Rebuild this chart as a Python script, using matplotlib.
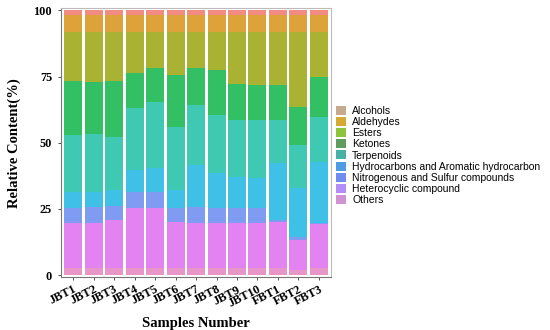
import numpy as np
import matplotlib
matplotlib.use("Agg")
import matplotlib.pyplot as plt
from matplotlib.patches import Patch

samples = ["JBT1", "JBT2", "JBT3", "JBT4", "JBT5", "JBT6", "JBT7",
           "JBT8", "JBT9", "JBT10", "FBT1", "FBT2", "FBT3"]
groups = ["Alcohols", "Aldehydes", "Esters", "Ketones", "Terpenoids",
          "Hydrocarbons and Aromatic hydrocarbon", "Nitrogenous and Sulfur compounds",
          "Heterocyclic compound", "Others"]

# percent per sample
alcohols     = [1.9, 1.9, 1.9, 1.9, 1.9, 1.9, 1.9, 1.9, 1.9, 1.9, 1.9, 1.9, 1.9]
aldehydes    = [6.4, 6.4, 6.4, 6.4, 6.4, 6.4, 6.4, 6.4, 6.4, 6.4, 6.4, 6.4, 6.4]
esters       = [18.5, 18.9, 18.5, 15.5, 13.6, 16.2, 13.6, 14.3, 19.6, 20.0, 20.0, 28.3, 17.0]
ketones      = [20.4, 19.6, 21.1, 13.2, 12.8, 19.7, 13.9, 17.0, 13.6, 13.2, 13.2, 14.3, 15.1]
terpenoids   = [21.5, 21.9, 20.0, 23.4, 24.9, 23.7, 22.7, 21.9, 21.5, 21.9, 16.2, 16.3, 17.0]
hydrocarbons = [6.0, 5.6, 6.1, 8.3, 9.1, 6.8, 15.8, 13.2, 11.7, 11.3, 21.5, 18.5, 23.0]
nitrogenous  = [5.7, 6.1, 5.2, 6.0, 6.0, 5.3, 6.1, 5.7, 5.7, 5.7, 0.8, 1.1, 0.4]
heterocyclic = [17.0, 17.0, 18.2, 22.7, 22.7, 17.4, 17.0, 17.0, 17.0, 17.0, 17.4, 11.3, 16.6]
others       = [2.6, 2.6, 2.6, 2.6, 2.6, 2.6, 2.6, 2.6, 2.6, 2.6, 2.6, 1.9, 2.6]

bar_colors = ["#F28C82", "#DDA23A", "#A9B233", "#33BF63", "#3FC9B2",
              "#3FC0E6", "#7F9CF2", "#E383F2", "#E895C8"]
key_colors = ["#C6A98E", "#D5AA34", "#8DC43D", "#5E9D5E", "#49B0A8",
              "#4E9CE4", "#6F8DF0", "#B58DF7", "#D192D2"]

series = [alcohols, aldehydes, esters, ketones, terpenoids,
          hydrocarbons, nitrogenous, heterocyclic, others]

fig = plt.figure(figsize=(5.5, 3.3), dpi=100)
ax = fig.add_axes([0.111, 0.16, 0.491, 0.815])

x = np.arange(len(samples))
# stack from the bottom: Others first, Alcohols on top
bottom = np.zeros(len(samples))
for vals, col in zip(series[::-1], bar_colors[::-1]):
    ax.bar(x, vals, bottom=bottom, width=0.88, color=col, linewidth=0)
    bottom += np.array(vals)

ax.set_xlim(-0.6, len(samples) - 0.4)
ax.set_ylim(-0.8, 100.8)
ax.set_yticks([0, 25, 50, 75, 100])
ax.set_xticks(x)
ax.set_xticklabels(samples, rotation=27, ha="right", rotation_mode="anchor")

serif = "Liberation Serif"
for lab in ax.get_xticklabels() + ax.get_yticklabels():
    lab.set_family(serif)
    lab.set_fontweight("bold")
    lab.set_fontsize(8.8)
ax.tick_params(axis="both", length=2.5, width=0.6, color="#333333")
ax.tick_params(axis="y", pad=4)
ax.tick_params(axis="x", pad=2)

for s in ax.spines.values():
    s.set_color("#BBBBBB")
    s.set_linewidth(0.8)
ax.spines["left"].set_color("#777777")
ax.spines["bottom"].set_color("#777777")

ax.set_xlabel("Samples Number", family=serif, fontweight="bold", fontsize=10.5, labelpad=5)
ax.set_ylabel("Relative Content(%)", family=serif, fontweight="bold", fontsize=10.5, labelpad=9)

handles = [Patch(facecolor=c, edgecolor="none") for c in key_colors]
fig.legend(handles, groups, loc="upper left", bbox_to_anchor=(0.608, 0.685),
           frameon=False, prop={"family": "Liberation Sans", "size": 7.5},
           handlelength=0.9, handleheight=0.95, handletextpad=0.6,
           labelspacing=0.1, borderaxespad=0, borderpad=0.2)

fig.savefig("out.png", dpi=100)
